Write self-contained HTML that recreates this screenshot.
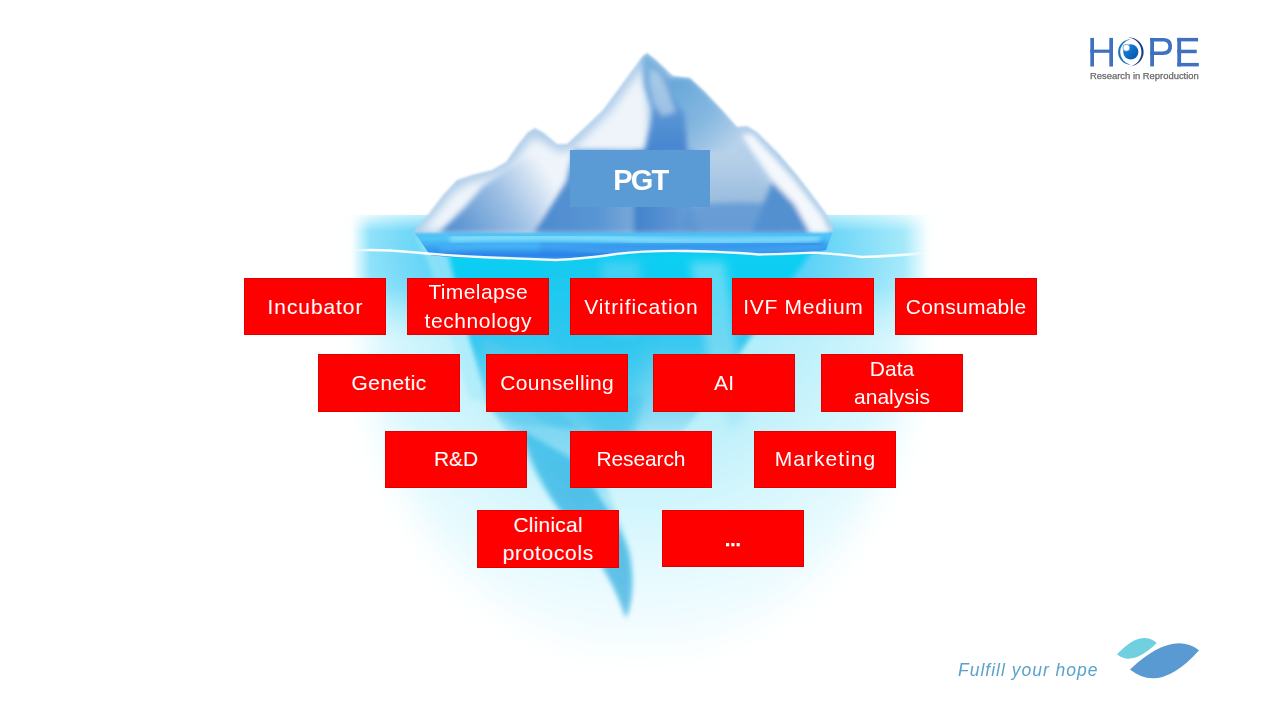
<!DOCTYPE html>
<html><head><meta charset="utf-8">
<style>
html,body{margin:0;padding:0;}
body{width:1280px;height:720px;overflow:hidden;background:#fff;position:relative;font-family:"Liberation Sans",sans-serif;}
#ice{position:absolute;left:0;top:0;width:1280px;height:720px;}
.b{position:absolute;background:#ff0000;color:#fff;display:flex;align-items:center;justify-content:center;text-align:center;font-size:21px;line-height:29px;box-sizing:border-box;width:142px;height:57px;box-shadow:inset 0 0 0 1px rgba(150,0,0,0.3);}
.l{display:inline-block;}
.m{line-height:28.3px;}
.pgt{position:absolute;left:570px;top:150px;width:140px;height:57px;background:#5b9bd5;color:#fff;font-weight:bold;font-size:29px;letter-spacing:-1.9px;display:flex;align-items:center;justify-content:center;}
.pgt span{position:relative;top:1.5px;left:0.3px;}
</style></head><body>
<svg id="ice" viewBox="0 0 1280 720">
<defs>
  <filter id="blur20" x="-50%" y="-50%" width="200%" height="200%"><feGaussianBlur stdDeviation="16"/></filter>
  <filter id="blur10" x="-50%" y="-50%" width="200%" height="200%"><feGaussianBlur stdDeviation="8"/></filter>
  <filter id="blur6" x="-20%" y="-20%" width="140%" height="140%"><feGaussianBlur stdDeviation="5"/></filter>
  <filter id="blur3" x="-20%" y="-20%" width="140%" height="140%"><feGaussianBlur stdDeviation="2.5"/></filter>
  <filter id="blur1" x="-20%" y="-20%" width="140%" height="140%"><feGaussianBlur stdDeviation="1"/></filter>
  <clipPath id="below"><rect x="0" y="215" width="1280" height="505"/></clipPath>
  <radialGradient id="hazeg" cx="640" cy="250" r="430" gradientUnits="userSpaceOnUse">
    <stop offset="0" stop-color="#8ae4f8"/>
    <stop offset="0.4" stop-color="#b8effb"/>
    <stop offset="0.72" stop-color="#e2f9fe"/>
    <stop offset="1" stop-color="#ffffff"/>
  </radialGradient>
  <linearGradient id="under" x1="0" y1="230" x2="0" y2="480" gradientUnits="userSpaceOnUse">
    <stop offset="0" stop-color="#08d0f2"/>
    <stop offset="0.2" stop-color="#12cef2"/>
    <stop offset="0.45" stop-color="#38c8f0"/>
    <stop offset="0.75" stop-color="#90dcf4"/>
    <stop offset="1" stop-color="#c8f0fa" stop-opacity="0"/>
  </linearGradient>
  <linearGradient id="tent" x1="0" y1="420" x2="0" y2="620" gradientUnits="userSpaceOnUse">
    <stop offset="0" stop-color="#40c2ec"/>
    <stop offset="0.6" stop-color="#48b8e4"/>
    <stop offset="1" stop-color="#60bce4"/>
  </linearGradient>
  <linearGradient id="band" x1="0" y1="229" x2="0" y2="262" gradientUnits="userSpaceOnUse">
    <stop offset="0" stop-color="#48c0f6"/>
    <stop offset="0.3" stop-color="#50c4f8"/>
    <stop offset="0.55" stop-color="#38a4f2"/>
    <stop offset="0.8" stop-color="#2a84ea"/>
    <stop offset="1" stop-color="#36a8f2"/>
  </linearGradient>
  <linearGradient id="berg" x1="413" y1="0" x2="833" y2="0" gradientUnits="userSpaceOnUse">
    <stop offset="0" stop-color="#c8dcef"/>
    <stop offset="0.3" stop-color="#8cb6e0"/>
    <stop offset="0.55" stop-color="#5a94d2"/>
    <stop offset="1" stop-color="#8ab4e0"/>
  </linearGradient>
  <linearGradient id="lface" x1="0" y1="130" x2="0" y2="231" gradientUnits="userSpaceOnUse">
    <stop offset="0" stop-color="#f4f8fc"/>
    <stop offset="1" stop-color="#c4d8ee"/>
  </linearGradient>
  <linearGradient id="dface" x1="450" y1="228" x2="545" y2="168" gradientUnits="userSpaceOnUse">
    <stop offset="0" stop-color="#5590d0"/>
    <stop offset="0.55" stop-color="#9ec0e4"/>
    <stop offset="1" stop-color="#eef4fa"/>
  </linearGradient>
  <linearGradient id="ridge" x1="0" y1="52" x2="0" y2="150" gradientUnits="userSpaceOnUse">
    <stop offset="0" stop-color="#80b8de"/>
    <stop offset="0.5" stop-color="#5c9ad6"/>
    <stop offset="1" stop-color="#4886d0"/>
  </linearGradient>
  <filter id="blurB" x="-20%" y="-20%" width="140%" height="140%"><feGaussianBlur stdDeviation="1.3"/></filter>
  <linearGradient id="silh" x1="0" y1="50" x2="0" y2="231" gradientUnits="userSpaceOnUse">
    <stop offset="0" stop-color="#a6c8e6"/>
    <stop offset="0.6" stop-color="#c8dcee"/>
    <stop offset="1" stop-color="#b4cce6"/>
  </linearGradient>
  <linearGradient id="cface" x1="533" y1="0" x2="800" y2="0" gradientUnits="userSpaceOnUse">
    <stop offset="0" stop-color="#4c8ace"/>
    <stop offset="0.25" stop-color="#5a96d4"/>
    <stop offset="0.37" stop-color="#78a8d8"/>
    <stop offset="0.385" stop-color="#4282cc"/>
    <stop offset="0.6" stop-color="#6a9ed6"/>
    <stop offset="1" stop-color="#5a94d0"/>
  </linearGradient>
  <linearGradient id="rface" x1="0" y1="130" x2="0" y2="227" gradientUnits="userSpaceOnUse">
    <stop offset="0" stop-color="#c8dcee"/>
    <stop offset="1" stop-color="#8cb2da"/>
  </linearGradient>
  <filter id="blur4" x="-20%" y="-20%" width="140%" height="140%"><feGaussianBlur stdDeviation="4"/></filter>
  <linearGradient id="hfade" x1="340" y1="0" x2="940" y2="0" gradientUnits="userSpaceOnUse">
    <stop offset="0" stop-color="#000"/>
    <stop offset="0.02" stop-color="#000"/>
    <stop offset="0.05" stop-color="#fff"/>
    <stop offset="0.94" stop-color="#fff"/>
    <stop offset="0.98" stop-color="#000"/>
    <stop offset="1" stop-color="#000"/>
  </linearGradient>
  <linearGradient id="vfade" x1="0" y1="210" x2="0" y2="340" gradientUnits="userSpaceOnUse">
    <stop offset="0" stop-color="#000"/>
    <stop offset="0.03" stop-color="#000"/>
    <stop offset="0.16" stop-color="#fff"/>
    <stop offset="0.6" stop-color="#fff"/>
    <stop offset="1" stop-color="#000"/>
  </linearGradient>
  <mask id="hmask" maskUnits="userSpaceOnUse" x="0" y="0" width="1280" height="720"><rect x="340" y="200" width="600" height="150" fill="url(#hfade)"/></mask>
  <mask id="vmask" maskUnits="userSpaceOnUse" x="0" y="0" width="1280" height="720"><rect x="340" y="200" width="600" height="150" fill="url(#vfade)"/></mask>
  <radialGradient id="surfg" cx="623" cy="250" r="300" gradientTransform="translate(623 250) scale(1 0.5) translate(-623 -250)" gradientUnits="userSpaceOnUse">
    <stop offset="0" stop-color="#30c4f4"/>
    <stop offset="0.55" stop-color="#4ccef6"/>
    <stop offset="0.75" stop-color="#78daf8"/>
    <stop offset="1" stop-color="#b4eefb"/>
  </radialGradient>
  <linearGradient id="rface2" x1="675" y1="85" x2="740" y2="150" gradientUnits="userSpaceOnUse">
    <stop offset="0" stop-color="#6aa8da"/>
    <stop offset="0.5" stop-color="#86b8e0"/>
    <stop offset="1" stop-color="#c0d6ec"/>
  </linearGradient>
</defs>
<!-- glow haze -->
<g clip-path="url(#below)">
<path d="M374 190 L906 190 L912 330 C910 525 775 655 640 655 C505 655 370 525 368 330 Z" fill="url(#hazeg)" filter="url(#blur20)"/>
</g>
<!-- surface -->
<g mask="url(#vmask)"><g mask="url(#hmask)"><rect x="340" y="200" width="600" height="150" fill="url(#surfg)"/></g></g>
<!-- underwater iceberg -->
<path d="M413 231 L833 229 L809 255 L752 335 L705 405 L640 480 L600 450 L512 440 L486 400 L467 335 L448 255 Z" fill="url(#under)" filter="url(#blur3)"/>
<path d="M413 231 L448 255 L467 335 L486 400 L470 400 L450 335 L428 262 Z" fill="#a6eafa" opacity="0.6" filter="url(#blur3)"/>
<path d="M540 262 L650 262 L645 340 L635 420 L620 460 L600 440 L570 400 L550 340 Z" fill="#28c4ee" opacity="0.5" filter="url(#blur10)"/>
<path d="M480 340 C495 375 515 400 540 420 C560 430 575 440 590 440 C570 420 545 400 525 370 C510 350 498 340 480 340 Z" fill="#58c8ec" opacity="0.6" filter="url(#blur3)"/>
<path d="M485 398 L645 395 L630 440 L605 485 L580 505 L560 485 L528 440 Z" fill="#44c4ec" opacity="0.55" filter="url(#blur6)"/>
<path d="M515 425 C525 465 548 500 576 532 C602 562 618 592 626 618 C634 598 634 575 630 550 C620 515 600 480 590 430 Z" fill="#8edcf4" opacity="0.6" filter="url(#blur3)"/>
<path d="M522 430 C532 470 552 502 580 535 C603 562 618 592 626 618 C633 598 633 578 629 555 C621 525 598 495 574 460 Z" fill="url(#tent)" opacity="0.85" filter="url(#blur3)"/>
<path d="M690 262 L725 262 L735 340 L745 420 L730 430 L712 380 Z" fill="#9ce4f6" opacity="0.55" filter="url(#blur6)"/>
<path d="M600 262 L640 262 L636 335 L610 335 Z" fill="#6ad8f6" opacity="0.5" filter="url(#blur6)"/>
<!-- band -->
<path d="M413 230 L834 228 L826 250 Q800 254 760 254 Q700 250 640 252 Q600 256 556 260 Q500 258 470 258 Q445 257 430 255 Z" fill="url(#band)"/>
<path d="M540 256 Q600 250 680 250 Q760 252 822 250 L826 240 Q700 246 540 244 Z" fill="#2a7ee4" opacity="0.55" filter="url(#blur3)"/>
<path d="M450 239 Q560 235 640 240 Q720 243 820 239" stroke="#a0ecfc" stroke-width="5" fill="none" filter="url(#blur3)" opacity="0.8"/>
<path d="M440 249 Q520 244 600 250 Q700 254 822 247" stroke="#70d4fc" stroke-width="3" fill="none" filter="url(#blur3)" opacity="0.5"/>
<!-- iceberg above -->
<clipPath id="silhclip"><path d="M413 231 L427 216 L443 195 L457 180 L472 175 L492 170 L506 162 L517 146 L528 132 L535 128 L544 133 L557 144 L567 144 L582 130 L603 110 L628 76 L642 57 L647 53 L656 60 L673 76 L690 78 L705 92 L722 110 L737 127 L747 126 L757 132 L780 155 L797 175 L810 192 L825 212 L834 228 L834 233 L413 233 Z"/></clipPath>
<g filter="url(#blurB)">
<path d="M413 231 L427 216 L443 195 L457 180 L472 175 L492 170 L506 162 L517 146 L528 132 L535 128 L544 133 L557 144 L567 144 L582 130 L603 110 L628 76 L642 57 L647 53 L656 60 L673 76 L690 78 L705 92 L722 110 L737 127 L747 126 L757 132 L780 155 L797 175 L810 192 L825 212 L834 228 L834 232 L413 233 Z" fill="#b2cfea"/>
<g clip-path="url(#silhclip)">
 <g filter="url(#blur4)">
  <!-- inner light areas (inset from outline) -->
  <path d="M422 231 L436 214 L452 194 L466 184 L492 177 L510 168 L522 152 L532 138 L544 142 L558 152 L572 150 L590 132 L610 112 L632 82 L643 68 L648 100 L650 150 L600 200 L540 231 Z" fill="#eef4fa"/>
  <path d="M689 132 L712 142 L740 150 L770 185 L780 233 L690 233 L690 160 Z" fill="url(#rface)"/>
 </g>
 <g filter="url(#blur3)">
  <path d="M439 233 L465 207 L483 186 L506 170 L522 157 L545 158 L562 178 L533 233 Z" fill="url(#dface)"/>
  <path d="M533 233 L566 182 L574 150 L700 150 L690 200 L700 233 Z" fill="url(#cface)"/>
  <path d="M690 205 Q740 200 790 205 L812 233 L680 233 Z" fill="#5a94d2" opacity="0.75"/>
  <path d="M645.6 51.4 L652 57.8 L664.7 70.6 L668 77 L672.7 93 L677.5 104 L685.5 113.7 L688 152 L644 152 L650.4 125 L652 109 L644 85 L642.4 59.4 Z" fill="url(#ridge)"/>
  <path d="M650 68 L660 74 L667 88 L672 102 L676 112 L662 116 L654 104 L649 84 Z" fill="#c4daee" opacity="0.65"/>
  <path d="M668 77 L690 78 L705 92 L722 110 L737 127 L745 142 L730 152 L689 152 L686 113.7 L677.5 104 L672.7 93 Z" fill="url(#rface2)"/>
  <path d="M742 134 L752 134 L776 160 L794 180 L808 198 L822 216 L830 233 L810 233 L794 204 L772 180 L748 146 Z" fill="#f4f8fc"/>
  <path d="M772 182 L794 204 L810 233 L752 233 Z" fill="#5290d0"/>
 </g>
</g>
</g>
<!-- wave line -->
<g mask="url(#hmask)"><path d="M352 250.5 Q380 249 410 252 Q450 256 490 257.5 Q530 259 556 260 Q590 258 616 254 Q650 250 687 251 Q730 252 759 254.5 Q790 254 813 252.7 Q840 254 862 257 Q895 256 925 253" stroke="#ffffff" stroke-width="2.3" fill="none" opacity="0.95"/></g>
</svg>



<div class="pgt"><span>PGT</span></div>

<div class="b" style="left:244px;top:278px;"><div><span class="l" style="letter-spacing:0.92px;margin-right:-0.92px">Incubator</span></div></div>
<div class="b m" style="left:407px;top:278px;"><div><span class="l" style="letter-spacing:0.39px;margin-right:-0.39px">Timelapse</span><br><span class="l" style="letter-spacing:0.59px;margin-right:-0.59px">technology</span></div></div>
<div class="b" style="left:570px;top:278px;"><div><span class="l" style="letter-spacing:0.94px;margin-right:-0.94px">Vitrification</span></div></div>
<div class="b" style="left:732px;top:278px;"><div><span class="l" style="letter-spacing:0.72px;margin-right:-0.72px">IVF Medium</span></div></div>
<div class="b" style="left:895px;top:278px;"><div><span class="l" style="letter-spacing:0.28px;margin-right:-0.28px">Consumable</span></div></div>

<div class="b" style="left:318px;top:354px;height:58px;padding-bottom:1.5px;"><div><span class="l" style="letter-spacing:0.40px;margin-right:-0.40px">Genetic</span></div></div>
<div class="b" style="left:486px;top:354px;height:58px;padding-bottom:1.5px;"><div><span class="l" style="letter-spacing:0.37px;margin-right:-0.37px">Counselling</span></div></div>
<div class="b" style="left:653px;top:354px;height:58px;padding-bottom:1.5px;"><div><span class="l" style="letter-spacing:0.20px;margin-right:-0.20px">AI</span></div></div>
<div class="b m" style="left:821px;top:354px;height:58px;"><div><span class="l" style="letter-spacing:0.03px;margin-right:-0.03px">Data</span><br><span class="l" style="letter-spacing:-0.01px;margin-right:0.01px">analysis</span></div></div>

<div class="b" style="left:385px;top:431px;padding-bottom:1.5px;"><div><span class="l" style="letter-spacing:-0.10px;margin-right:0.10px">R&amp;D</span></div></div>
<div class="b" style="left:570px;top:431px;padding-bottom:1.5px;"><div><span class="l" style="letter-spacing:-0.14px;margin-right:0.14px">Research</span></div></div>
<div class="b" style="left:754px;top:431px;padding-bottom:1.5px;"><div><span class="l" style="letter-spacing:1.04px;margin-right:-1.04px">Marketing</span></div></div>

<div class="b m" style="left:477px;top:510px;height:58px;"><div><span class="l" style="letter-spacing:0.21px;margin-right:-0.21px">Clinical</span><br><span class="l" style="letter-spacing:0.67px;margin-right:-0.67px">protocols</span></div></div>
<div class="b" style="left:662px;top:510px;"><svg width="142" height="57" style="position:absolute;left:0;top:0"><rect x="64" y="33" width="3.2" height="3.3" fill="#fff"/><rect x="69.3" y="33" width="3.2" height="3.3" fill="#fff"/><rect x="74.6" y="33" width="3.2" height="3.3" fill="#fff"/></svg></div>


<svg id="logo" style="position:absolute;left:1080px;top:30px;width:130px;height:55px" viewBox="1080 30 130 55">
  <defs>
    <linearGradient id="pup" x1="0" y1="0" x2="1" y2="1">
      <stop offset="0" stop-color="#1a8ae0"/>
      <stop offset="1" stop-color="#0650a8"/>
    </linearGradient>
  </defs>
  <g fill="#4070c0">
    <rect x="1090.3" y="37.9" width="3.7" height="28.6"/>
    <rect x="1109.3" y="37.9" width="3.7" height="28.6"/>
    <rect x="1090.3" y="49.6" width="22.7" height="3.2"/>
    <rect x="1150.2" y="37.9" width="3.8" height="28.5"/>
    <path d="M1150.2 37.9 H1163 C1169 37.9 1172 40.8 1172 46.2 C1172 51.8 1169 54.9 1163 54.9 H1150.2 V51.5 H1162.6 C1166.6 51.5 1168.3 49.6 1168.3 46.3 C1168.3 43 1166.6 41.4 1162.6 41.4 H1150.2 Z"/>
    <rect x="1177.3" y="37.9" width="3.8" height="28.5"/>
    <rect x="1177.3" y="37.9" width="20.8" height="3.5"/>
    <rect x="1177.3" y="49.7" width="19.4" height="3.5"/>
    <rect x="1177.3" y="62.9" width="21.5" height="3.5"/>
  </g>
  <path d="M1130.8 39.3 A12.7 12.7 0 0 0 1130.8 64.7 A12.9 12.9 0 0 1 1130.8 39.3 Z" fill="#1f74b8"/>
  <path d="M1128 37.6 A14.45 14.45 0 0 1 1130.4 66.4 A14.65 14.65 0 0 0 1128 37.6 Z" fill="#1a3f88"/>
  <circle cx="1130.8" cy="51.8" r="7.6" fill="url(#pup)"/>
  <circle cx="1126.4" cy="47.8" r="3.5" fill="#ffffff" stroke="#3a8ad8" stroke-width="0.7"/>
  <text x="1090" y="78.6" font-family="Liberation Sans, sans-serif" font-size="9.2" fill="#686868" stroke="#686868" stroke-width="0.25" textLength="108.8" lengthAdjust="spacingAndGlyphs">Research in Reproduction</text>
</svg>
<div id="tag" style="position:absolute;left:958px;top:660px;font-family:'Liberation Sans',sans-serif;font-style:italic;font-size:17.5px;letter-spacing:1.0px;color:#5aa2cc;white-space:nowrap;">Fulfill your hope</div>
<svg id="leaves" style="position:absolute;left:1110px;top:630px;width:100px;height:55px" viewBox="1110 630 100 55">
  <path d="M1117 654.3 Q1141 629 1156.8 643.1 Q1132 667 1117 654.3 Z" fill="#70d0e0"/>
  <path d="M1130 669.5 Q1172 630 1199.1 650.2 Q1160 694 1130 669.5 Z" fill="#5a9ad2"/>
</svg>
</body></html>
